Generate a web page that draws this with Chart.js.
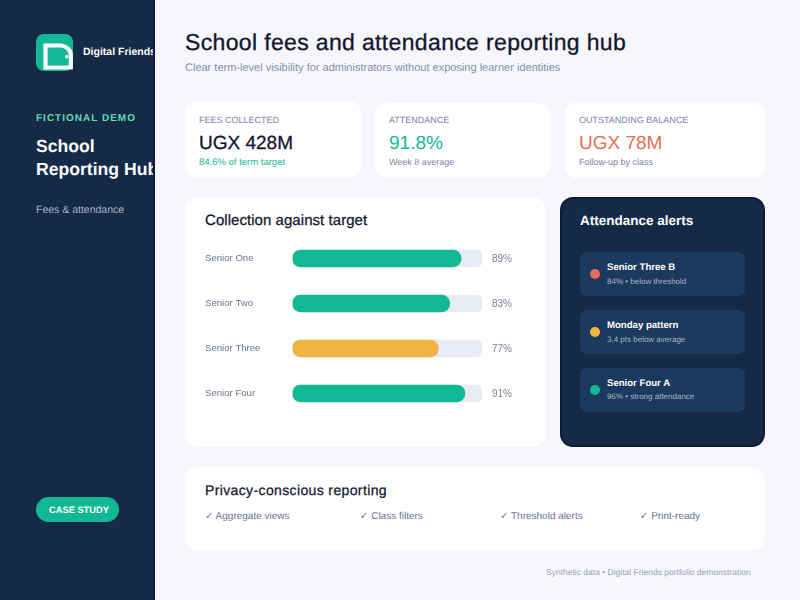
<!DOCTYPE html>
<html>
<head>
<meta charset="utf-8">
<script src="https://cdn.jsdelivr.net/npm/chart.js@4"></script>
<style>
*{box-sizing:border-box;margin:0;padding:0}
html,body{width:800px;height:600px;overflow:hidden;background:#f6f6fc;font-family:"Liberation Sans",Arial,sans-serif;text-rendering:geometricPrecision}
.t{position:absolute;white-space:nowrap;line-height:1}
.side{position:absolute;left:0;top:0;width:155px;height:600px;background:#152a47;border-right:2px solid #14174a;overflow:hidden}
.logo{position:absolute;left:36px;top:34px;width:37px;height:37px;border-radius:8px;background:#12b894}
.card{position:absolute;background:#fff;border-radius:12px}
.alert{position:absolute;left:580px;width:165px;height:44px;background:#1c3a5e;border-radius:7px}
.dot{position:absolute;left:590px;width:10px;height:10px;border-radius:50%}
</style>
</head>
<body>
<div class="side">
  <div class="logo">
    <svg width="37" height="37" viewBox="0 0 37 37"><path d="M9.5 11.5H25C30 12 34.8 16 34.8 21V33.5H9.5Z" fill="none" stroke="#fff" stroke-width="4.2"/><circle cx="30.7" cy="22.7" r="1.7" fill="#fff"/></svg>
  </div>
  <div class="t" style="left:83px;top:47px;font-size:10.5px;font-weight:700;color:#fff">Digital Friends</div>
  <div class="t" style="left:36px;top:114px;font-size:10px;font-weight:700;color:#5fdcb4;letter-spacing:1px">FICTIONAL DEMO</div>
  <div class="t" style="left:36px;top:134.5px;font-size:17.6px;font-weight:700;color:#fff;line-height:23px;white-space:normal;width:160px">School<br>Reporting Hub</div>
  <div class="t" style="left:36px;top:204.5px;font-size:10.5px;color:#a9b4c6">Fees &amp; attendance</div>
  <div style="position:absolute;left:36px;top:497px;width:83px;height:25px;border-radius:13px;background:#12b894"></div>
  <div class="t" style="left:49px;top:505.5px;font-size:9.3px;font-weight:700;color:#fff">CASE STUDY</div>
</div>

<div class="t" style="left:185px;top:31px;font-size:23px;color:#11152e;letter-spacing:.35px;-webkit-text-stroke:.3px #11152e">School fees and attendance reporting hub</div>
<div class="t" style="left:185px;top:63px;font-size:11px;color:#8591a8">Clear term-level visibility for administrators without exposing learner identities</div>

<div class="card" style="left:185px;top:101px;width:176px;height:77px"></div>
<div class="t" style="left:199px;top:116px;font-size:9px;color:#7b849c">FEES COLLECTED</div>
<div class="t" style="left:199px;top:133.5px;font-size:19px;color:#11152e;-webkit-text-stroke:.3px #11152e">UGX 428M</div>
<div class="t" style="left:199px;top:158px;font-size:9.5px;color:#12b894">84.6% of term target</div>

<div class="card" style="left:375px;top:103px;width:175px;height:75px"></div>
<div class="t" style="left:389px;top:116px;font-size:9px;color:#7b849c">ATTENDANCE</div>
<div class="t" style="left:389px;top:133.5px;font-size:19px;color:#12b894">91.8%</div>
<div class="t" style="left:389px;top:158px;font-size:9px;color:#7b849c">Week 8 average</div>

<div class="card" style="left:565px;top:102px;width:200px;height:76px"></div>
<div class="t" style="left:579px;top:116px;font-size:9px;color:#7b849c">OUTSTANDING BALANCE</div>
<div class="t" style="left:579px;top:133.5px;font-size:19px;color:#e86f50">UGX 78M</div>
<div class="t" style="left:579px;top:158px;font-size:9px;color:#7b849c">Follow-up by class</div>

<div class="card" style="left:185px;top:197px;width:360px;height:250px"></div>
<div class="t" style="left:205px;top:212.5px;font-size:15px;color:#11152e;letter-spacing:.05px;-webkit-text-stroke:.25px #11152e">Collection against target</div>
<div style="position:absolute;left:205px;top:236px;width:325px;height:180px"><canvas id="c"></canvas></div>

<div style="position:absolute;left:560px;top:197px;width:205px;height:250px;background:#152a47;border:2px solid #0e1a3c;border-radius:13px"></div>
<div class="t" style="left:580px;top:213.5px;font-size:13.5px;font-weight:700;color:#fff">Attendance alerts</div>

<div class="alert" style="top:252px"></div>
<div class="dot" style="top:269px;background:#e36f55"></div>
<div class="t" style="left:607px;top:263px;font-size:9.6px;font-weight:700;color:#fff">Senior Three B</div>
<div class="t" style="left:607px;top:278px;font-size:8px;color:#a9b4c6">84% • below threshold</div>

<div class="alert" style="top:310px"></div>
<div class="dot" style="top:327px;background:#f0b541"></div>
<div class="t" style="left:607px;top:320.5px;font-size:9.6px;font-weight:700;color:#fff">Monday pattern</div>
<div class="t" style="left:607px;top:335.5px;font-size:8px;color:#a9b4c6">3.4 pts below average</div>

<div class="alert" style="top:367.5px"></div>
<div class="dot" style="top:384.5px;background:#12b894"></div>
<div class="t" style="left:607px;top:378.5px;font-size:9.6px;font-weight:700;color:#fff">Senior Four A</div>
<div class="t" style="left:607px;top:393px;font-size:8px;color:#a9b4c6">96% • strong attendance</div>

<div class="card" style="left:185px;top:467px;width:580px;height:83px"></div>
<div class="t" style="left:205px;top:483px;font-size:14px;color:#11152e;letter-spacing:.37px;-webkit-text-stroke:.25px #11152e">Privacy-conscious reporting</div>
<div class="t" style="left:205px;top:512px;font-size:10px;color:#6b7490">✓ Aggregate views</div>
<div class="t" style="left:360px;top:512px;font-size:10px;color:#6b7490">✓ Class filters</div>
<div class="t" style="left:500px;top:512px;font-size:10px;color:#6b7490">✓ Threshold alerts</div>
<div class="t" style="left:640px;top:512px;font-size:10px;color:#6b7490">✓ Print-ready</div>
<div class="t" style="left:546px;top:568px;font-size:8.5px;color:#98a2b6">Synthetic data • Digital Friends portfolio demonstration</div>

<script>
const categories = ["Senior One", "Senior Two", "Senior Three", "Senior Four"];
const collected = [89, 83, 77, 91];
const trackValues = [100, 100, 100, 100];
const barColors = ["#12b894", "#12b894", "#f0b541", "#12b894"];
const trackColor = "#e9ebf3";

const valueLabels = {
  id: "valueLabels",
  afterDatasetsDraw(chart) {
    const { ctx, chartArea, scales } = chart;
    ctx.save();
    ctx.font = '10px "Liberation Sans", Arial, sans-serif';
    ctx.fillStyle = "#7b8296";
    ctx.textAlign = "left";
    ctx.textBaseline = "middle";
    collected.forEach((v, i) => ctx.fillText(v + "%", chartArea.right + 10, scales.y.getPixelForValue(i) + 0.5));
    ctx.restore();
  }
};

new Chart(document.getElementById("c"), {
  type: "bar",
  data: {
    labels: categories,
    datasets: [
      { data: collected, backgroundColor: barColors, order: 1, barThickness: 17, borderRadius: 9, borderSkipped: false },
      { data: trackValues, backgroundColor: trackColor, order: 2, barThickness: 17, borderRadius: 6, borderSkipped: false }
    ]
  },
  options: {
    indexAxis: "y",
    responsive: true,
    maintainAspectRatio: false,
    animation: false,
    layout: { padding: { left: 0, right: 48, top: 0, bottom: 0 } },
    plugins: { legend: { display: false }, tooltip: { enabled: false } },
    scales: {
      x: { display: false, min: 0, max: 100, stacked: false },
      y: {
        stacked: true,
        offset: true,
        grid: { display: false },
        border: { display: false },
        afterFit(s) { s.width = 87.5; s.paddingTop = 0; s.paddingBottom = 0; },
        ticks: { color: "#6b7490", font: { family: '"Liberation Sans", Arial, sans-serif', size: 9.6 }, crossAlign: "far", padding: 0 }
      }
    }
  },
  plugins: [valueLabels]
});
</script>
</body>
</html>
